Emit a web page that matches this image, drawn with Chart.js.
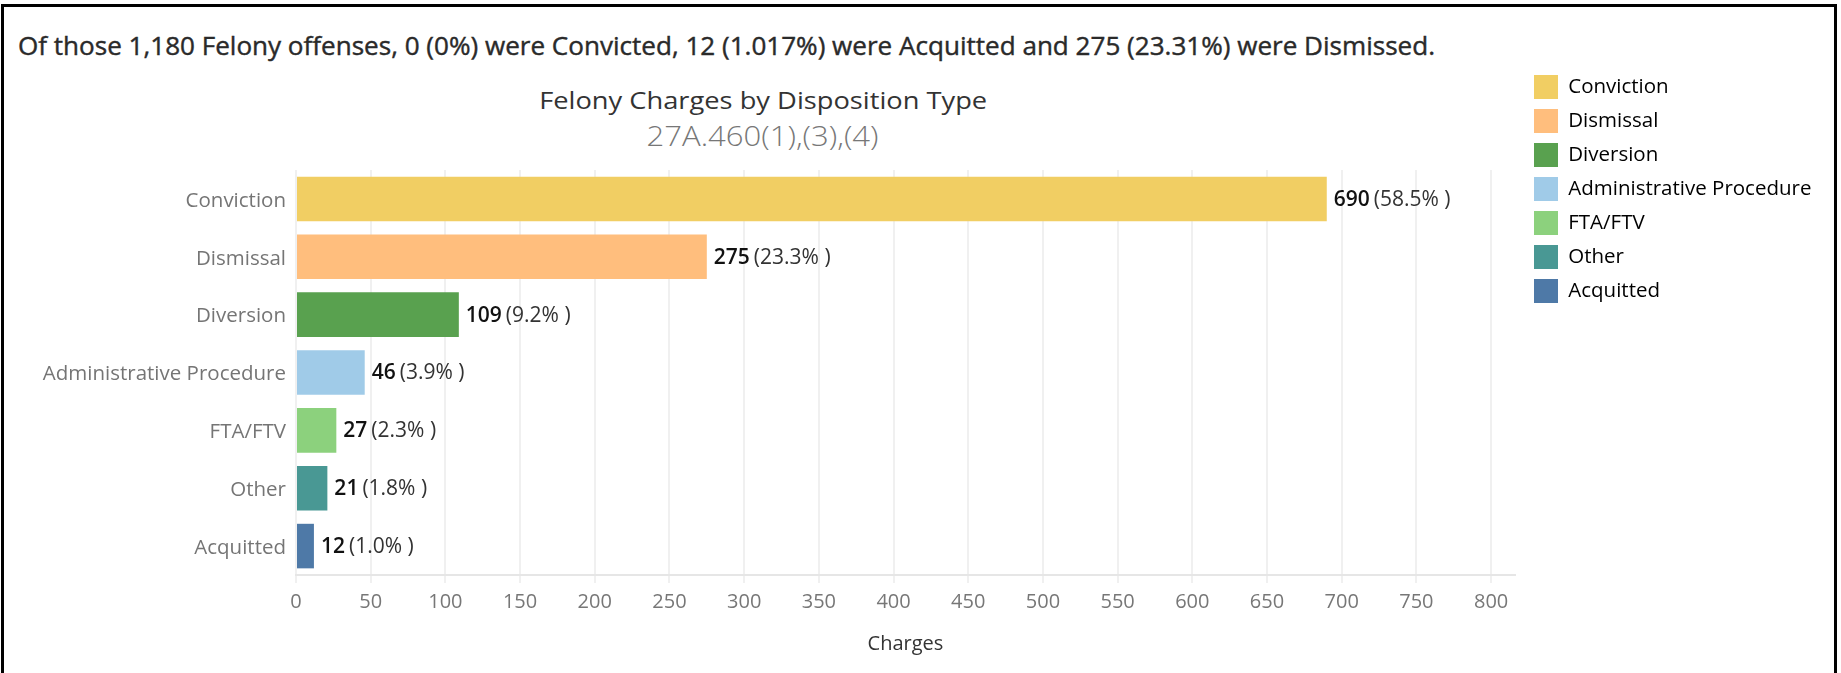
<!DOCTYPE html>
<html>
<head>
<meta charset="utf-8">
<script src="https://cdn.jsdelivr.net/npm/chart.js@4.4.1/dist/chart.umd.min.js"></script>
<style>
  html, body { margin: 0; padding: 0; background: #fff; }
  body { width: 1841px; height: 673px; overflow: hidden; position: relative; font-family: "Open Sans", sans-serif; }
  #frame { position: absolute; left: 1px; top: 4px; width: 1836px; height: 720px; box-sizing: border-box; border: 3px solid #000; }
  .txt { position: absolute; white-space: nowrap; }
  #headline { left: 18px; top: 30px; font-size: 25px; line-height: 30px; font-weight: 400; color: #2a2a2a; -webkit-text-stroke: 0.4px #2a2a2a; transform-origin: left center; }
  #title { top: 85px; font-size: 24px; line-height: 30px; font-weight: 500; color: #333; }
  #subtitle { top: 118px; font-size: 28px; line-height: 34px; font-weight: 300; color: #777; }
  #wrap { position: absolute; left: 0; top: 0; width: 1841px; height: 673px; }
</style>
</head>
<body>
<div id="frame"></div>
<div class="txt" id="headline">Of those 1,180 Felony offenses, 0 (0%) were Convicted, 12 (1.017%) were Acquitted and 275 (23.31%) were Dismissed.</div>
<div class="txt" id="title">Felony Charges by Disposition Type</div>
<div class="txt" id="subtitle">27A.460(1),(3),(4)</div>
<div id="wrap"><canvas id="chart" width="1841" height="673"></canvas></div>
<script>
const categories = ['Conviction', 'Dismissal', 'Diversion', 'Administrative Procedure', 'FTA/FTV', 'Other', 'Acquitted'];
const counts = [690, 275, 109, 46, 27, 21, 12];
const shares = [58.5, 23.3, 9.2, 3.9, 2.3, 1.8, 1.0];
const barColors = ['#F1CE63', '#FFBE7D', '#59A14F', '#A0CBE8', '#8CD17D', '#499894', '#4E79A7'];
const xTicks = [0, 50, 100, 150, 200, 250, 300, 350, 400, 450, 500, 550, 600, 650, 700, 750, 800];
const axisMax = 816;

const family = '"Open Sans", sans-serif';

// stretch the html texts to the widths measured on the reference
function fit(id, width, centerX) {
  const el = document.getElementById(id);
  const w = el.getBoundingClientRect().width;
  if (centerX !== undefined) {
    el.style.left = (centerX - w / 2) + 'px';
    el.style.transformOrigin = 'center center';
  }
  el.style.transform = 'scaleX(' + (width / w) + ')';
}
fit('headline', 1417);
fit('title', 448, 763);
fit('subtitle', 232, 763);

// value + share after each bar
const barLabels = {
  id: 'barLabels',
  afterDatasetsDraw(chart) {
    const ctx = chart.ctx;
    chart.getDatasetMeta(0).data.forEach((bar, i) => {
      const x = bar.x + 7;
      ctx.save();
      ctx.textBaseline = 'middle';
      ctx.textAlign = 'left';
      ctx.font = '600 21px ' + family;
      ctx.fillStyle = '#111';
      const v = String(counts[i]);
      ctx.fillText(v, x, bar.y + 1);
      const w = ctx.measureText(v).width;
      ctx.font = '400 21px ' + family;
      ctx.fillStyle = '#333';
      ctx.fillText('(' + shares[i].toFixed(1) + '% )', x + w + 4, bar.y + 1);
      ctx.restore();
    });
  }
};

// legend sits top right, above the plot
const legendSpot = {
  id: 'legendSpot',
  beforeLayout(chart) {
    const lg = chart.legend;
    if (lg && !lg._fixed) {
      const orig = lg.fit.bind(lg);
      lg.fit = function () { orig(); this.width = 326; };
      lg._fixed = true;
    }
  },
  afterLayout(chart) {
    const lg = chart.legend;
    lg.left = 1524; lg.right = 1841;
    lg.top = 65; lg.bottom = 673;
  }
};

new Chart(document.getElementById('chart'), {
  type: 'bar',
  data: {
    labels: categories,
    datasets: [{
      label: 'Charges',
      data: counts,
      backgroundColor: barColors,
      categoryPercentage: 1,
      barPercentage: 0.77
    }]
  },
  options: {
    indexAxis: 'y',
    responsive: false,
    animation: false,
    layout: { padding: { top: 170, left: 0, right: 0, bottom: 0 } },
    scales: {
      x: {
        min: 0,
        max: axisMax,
        afterBuildTicks(s) { s.ticks = xTicks.map(v => ({ value: v })); },
        afterFit(s) { s.height = 98; },
        ticks: { color: '#777', padding: 7, font: { family, size: 20 } },
        grid: { color: '#f0f0f0', lineWidth: 2, tickLength: 8 },
        border: { display: true, color: '#e6e6e6', width: 2 },
        title: { display: true, text: 'Charges', color: '#333', font: { family, size: 20, weight: '500' }, padding: { top: 4, bottom: 17 } }
      },
      y: {
        afterFit(s) { s.width = 296; },
        grid: { display: false, drawTicks: false },
        border: { display: false },
        ticks: { color: '#757575', padding: 10, labelOffset: 2, font: { family, size: 20.5 } }
      }
    },
    plugins: {
      tooltip: { enabled: false },
      legend: {
        position: 'right',
        align: 'start',
        labels: {
          boxWidth: 24,
          boxHeight: 24,
          padding: 10,
          color: '#555',
          font: { family, size: 20.5 },
          generateLabels: () => categories.map((c, i) => ({
            text: c, fillStyle: barColors[i], strokeStyle: barColors[i], lineWidth: 0, hidden: false, index: i
          }))
        }
      }
    }
  },
  plugins: [barLabels, legendSpot]
});
</script>
</body>
</html>
